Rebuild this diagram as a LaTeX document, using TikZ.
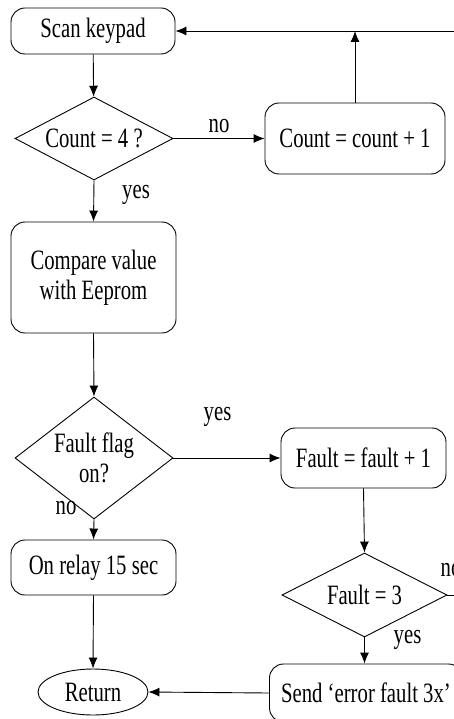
\documentclass[tikz,border=0pt]{standalone}
\usepackage{fontspec}
\setmainfont{Liberation Serif}[FakeStretch=0.74]
\usetikzlibrary{arrows.meta,shapes.geometric}

\tikzset{
  box/.style={draw, rounded corners=14pt, inner sep=0pt, align=center},
  decision/.style={draw, diamond, inner sep=0pt, align=center},
  terminal/.style={draw, ellipse, inner sep=0pt},
  flow/.style={line width=0.9pt, -{Latex[length=11pt,width=9pt]}},
  lbl/.style={inner sep=0pt}
}

\begin{document}
\begin{tikzpicture}[x=1pt, y=-1pt, line width=0.9pt,
  font=\fontsize{28}{30}\selectfont]
  \clip (0,0) rectangle (454,719);

  % left column
  \node[box, minimum width=164pt, minimum height=46pt] (scan) at (93,31) {Scan keypad};
  \node[decision, minimum width=158pt, minimum height=83pt, shape aspect=1.9] (c4) at (94,138.5) {Count = 4 ?};
  \node[box, minimum width=165pt, minimum height=111pt] (cmp) at (93.5,277.5) {Compare value\\with Eeprom};
  \node[decision, minimum width=158pt, minimum height=122pt, shape aspect=1.3] (ff) at (94,458) {Fault flag\\on?};
  \node[box, minimum width=165pt, minimum height=55pt] (relay) at (93.5,567.5) {On relay 15 sec};
  \node[terminal, minimum width=110pt, minimum height=46pt] (ret) at (93,692) {Return};

  % right column
  \node[box, minimum width=180pt, minimum height=71pt] (cnt) at (355,138.5) {Count = count + 1};
  \node[box, minimum width=165pt, minimum height=60pt] (fb) at (363.5,458) {Fault = fault + 1};
  \node[decision, minimum width=165pt, minimum height=84pt, shape aspect=1.96] (f3) at (364.5,595) {Fault = 3};
  \node[box, minimum width=193pt, minimum height=58pt] (send) at (366,693) {Send ‘error fault 3x’};

  % loop back to the keypad scan
  \coordinate (rt) at (472,595);
  \coordinate (tp) at (472,31);

  % connectors
  \draw[flow] (scan) -- (c4);
  \draw[flow] (c4.east) -- (cnt.west);
  \draw[flow] (cnt.north) -- (cnt.north |- scan.east);
  \draw[flow] (f3.east) -- (rt) -- (tp) -- (scan.east);
  \draw[flow] (c4.south) -- (cmp.north);
  \draw[flow] (cmp.south) -- (ff.north);
  \draw[flow] (ff.east) -- (fb.west);
  \draw[flow] (ff.south) -- (relay.north);
  \draw[flow] (relay.south) -- (ret.north);
  \draw[flow] (fb.south) -- (f3.north);
  \draw[flow] (f3.south) -- (f3.south |- send.north);
  \draw[flow] (send.west) -- (ret.east);

  % branch labels
  \node[lbl] (l1) at (219,126) {no};
  \node[lbl] (l2) at (136,195) {yes};
  \node[lbl] (l3) at (217.5,417) {yes};
  \node[lbl] (l4) at (66,508) {no};
  \node[lbl] (l5) at (451,570) {no};
  \node[lbl] (l6) at (407.5,640) {yes};
\end{tikzpicture}
\end{document}
